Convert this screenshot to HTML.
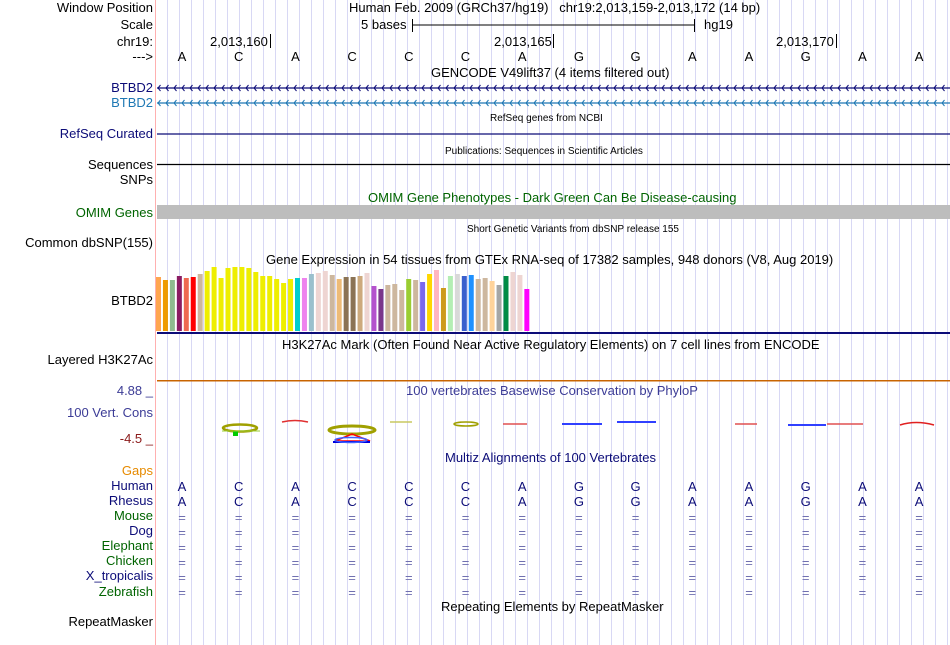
<!DOCTYPE html>
<html><head><meta charset="utf-8"><style>
body{margin:0;width:950px;height:645px;background:#fff;overflow:hidden;position:relative;font-family:"Liberation Sans",Arial,sans-serif;font-size:13px}
.l{position:absolute;right:797px;white-space:nowrap;line-height:15px;text-align:right}
.t{position:absolute;white-space:nowrap;line-height:15px}
.s{font-size:10px}
svg{position:absolute;left:0;top:0}
</style></head><body>
<svg id="grid" width="950" height="645"></svg>

<div class="l" style="top:0">Window Position</div>
<div class="l" style="top:17px">Scale</div>
<div class="l" style="top:34px">chr19:</div>
<div class="l" style="top:49px">---&gt;</div>
<div class="t" style="left:349px;top:0">Human Feb. 2009 (GRCh37/hg19) &nbsp; chr19:2,013,159-2,013,172 (14 bp)</div>
<div class="t" style="left:361px;top:17px">5 bases</div>
<div class="t" style="left:704px;top:17px">hg19</div>
<div class="t" style="left:210px;top:34px">2,013,160</div>
<div class="t" style="left:494px;top:34px">2,013,165</div>
<div class="t" style="left:776px;top:34px">2,013,170</div>
<div class="t" style="left:431px;top:65px">GENCODE V49lift37 (4 items filtered out)</div>
<div class="l" style="top:80px;color:#0c0c78">BTBD2</div>
<div class="l" style="top:95px;color:#1e78b4">BTBD2</div>
<div class="t s" style="left:490px;top:111px">RefSeq genes from NCBI</div>
<div class="l" style="top:126px;color:#0c0c78">RefSeq Curated</div>
<div class="t s" style="left:445px;top:144px">Publications: Sequences in Scientific Articles</div>
<div class="l" style="top:157px">Sequences</div>
<div class="l" style="top:172px">SNPs</div>
<div class="t" style="left:368px;top:190px;color:#006400">OMIM Gene Phenotypes - Dark Green Can Be Disease-causing</div>
<div class="l" style="top:205px;color:#006400">OMIM Genes</div>
<div class="t s" style="left:467px;top:222px">Short Genetic Variants from dbSNP release 155</div>
<div class="l" style="top:235px">Common dbSNP(155)</div>
<div class="t" style="left:266px;top:252px">Gene Expression in 54 tissues from GTEx RNA-seq of 17382 samples, 948 donors (V8, Aug 2019)</div>
<div class="l" style="top:293px">BTBD2</div>
<div class="t" style="left:282px;top:337px">H3K27Ac Mark (Often Found Near Active Regulatory Elements) on 7 cell lines from ENCODE</div>
<div class="l" style="top:352px">Layered H3K27Ac</div>
<div class="l" style="top:383px;color:#3c3c96">4.88 _</div>
<div class="t" style="left:406px;top:383px;color:#3c3c96">100 vertebrates Basewise Conservation by PhyloP</div>
<div class="l" style="top:405px;color:#3c3c96">100 Vert. Cons</div>
<div class="l" style="top:431px;color:#8b1a1a">-4.5 _</div>
<div class="t" style="left:445px;top:450px;color:#0c0c78">Multiz Alignments of 100 Vertebrates</div>
<div class="l" style="top:463px;color:#e68a00">Gaps</div>
<div class="l" style="top:478px;color:#0c0c78">Human</div>
<div class="l" style="top:493px;color:#0c0c78">Rhesus</div>
<div class="l" style="top:508px;color:#006400">Mouse</div>
<div class="l" style="top:523px;color:#0c0c78">Dog</div>
<div class="l" style="top:538px;color:#006400">Elephant</div>
<div class="l" style="top:553px;color:#006400">Chicken</div>
<div class="l" style="top:568px;color:#0c0c78">X_tropicalis</div>
<div class="l" style="top:584px;color:#006400">Zebrafish</div>
<div class="t" style="left:441px;top:599px">Repeating Elements by RepeatMasker</div>
<div class="l" style="top:614px">RepeatMasker</div>

<svg id="fg" width="950" height="645"></svg>
<script>
const bases=["A","C","A","C","C","C","A","G","G","A","A","G","A","A"];
const gtexValues=[54,51,51,55,53,54,57,60,64,53,63,64,64,63,59,55,55,52,48,52,53,53,57,58,60,56,52,54,54,55,58,45,42,46,47,41,52,51,49,57,61,43,55,57,55,56,52,53,50,46,55,59,56,42];
const gtexColors=["#FFA54F","#EE9A00","#8FBC8F","#8B1C62","#EE6A50","#FF0000","#CDB79E","#EEEE00","#EEEE00","#EEEE00","#EEEE00","#EEEE00","#EEEE00","#EEEE00","#EEEE00","#EEEE00","#EEEE00","#EEEE00","#EEEE00","#EEEE00","#00CDCD","#EE82EE","#9AC0CD","#EED5D2","#EED5D2","#CDB79E","#EEBB77","#8B7355","#8B7355","#CDAA7D","#EED5D2","#B452CD","#7A378B","#CDB79E","#CDB79E","#CDB79E","#9ACD32","#CDB79E","#7B68EE","#FFD700","#FFB6C1","#CD9B1D","#B4EEB4","#D9D9D9","#3A5FCD","#1E90FF","#CDB79E","#CDB79E","#FFD39B","#A6A6A6","#008B45","#EED5D2","#EED5D2","#FF00FF"];
const NS="http://www.w3.org/2000/svg";
function mk(svg,tag,a){const e=document.createElementNS(NS,tag);for(const k in a)e.setAttribute(k,a[k]);svg.appendChild(e);return e;}
const g=document.getElementById('grid'),f=document.getElementById('fg');
for(let x=167.5;x<950;x+=12){const e=mk(g,'line',{x1:x,x2:x,y1:0,y2:645,stroke:'#d8d8f4','stroke-width':1});

}
const pl=mk(g,'line',{x1:155.5,x2:155.5,y1:0,y2:645,stroke:'#ffb0b0','stroke-width':1});


const bx=i=>182+56.7*i;
mk(f,'line',{x1:412,x2:694,y1:25,y2:25,stroke:'#000'});
mk(f,'line',{x1:412.5,x2:412.5,y1:19,y2:32,stroke:'#000'});
mk(f,'line',{x1:694.5,x2:694.5,y1:19,y2:32,stroke:'#000'});
[270,553,836].forEach(x=>mk(f,'line',{x1:x+.5,x2:x+.5,y1:34,y2:48,stroke:'#000'}));
function txt(x,y,s,c,name){const t=mk(f,'text',{x:x,y:y,'text-anchor':'middle','font-size':13,fill:c,'font-family':'Liberation Sans, Arial, sans-serif'});t.textContent=s;

}
bases.forEach((b,i)=>{txt(bx(i),61,b,'#000','base-letter');txt(bx(i),491,b,'#0c0c78','human-base');txt(bx(i),506,b,'#0c0c78','rhesus-base');
for(let r=0;r<6;r++)txt(bx(i),522+15*r,'=','#7070b0','gap-mark');});
function gene(y,c){mk(f,'line',{x1:157,x2:950,y1:y,y2:y,stroke:c,'stroke-width':1.2});
for(let x=158;x<948;x+=8)mk(f,'path',{d:`M${x+2.5} ${y-3}L${x} ${y}L${x+2.5} ${y+3}`,stroke:c,fill:'none','stroke-width':1});}
gene(88,'#0c0c78');gene(103,'#1e78b4');
mk(f,'line',{x1:157,x2:950,y1:134,y2:134,stroke:'#0c0c78','stroke-width':1.3});
mk(f,'line',{x1:157,x2:950,y1:164.5,y2:164.5,stroke:'#000','stroke-width':1.3});
const om=mk(f,'rect',{x:157,y:205,width:793,height:14,fill:'#bdbdbd'});


const base=331,scale=1.0,bw=6.95;
gtexValues.forEach((v,i)=>{const h=v*scale;const r=mk(f,'rect',{x:156+i*bw,y:base-h,width:5,height:h,fill:gtexColors[i]});

});
mk(f,'rect',{x:157,y:332,width:793,height:2,fill:'#0c0c78'});
mk(f,'rect',{x:157,y:380,width:793,height:1.5,fill:'#c86400'});
function ell(cx,cy,rx,ry,c,w){mk(f,'ellipse',{cx,cy,rx,ry,fill:'none',stroke:c,'stroke-width':w});}
ell(240,428,17,3.5,'#a0a000',2.5);mk(f,'rect',{x:233,y:431,width:5,height:5,fill:'#00cc00'});mk(f,'line',{x1:222,x2:260,y1:431,y2:431,stroke:'#9acd32'});
mk(f,'path',{d:'M282 422 Q295 419 308 422',stroke:'#e03030',fill:'none','stroke-width':1.5});
ell(352,430,23,4,'#a0a000',3);mk(f,'path',{d:'M335 441 L352 434 L370 441 Z',fill:'none',stroke:'#ff0000','stroke-width':1.5});
mk(f,'path',{d:'M333 442 L370 442',stroke:'#0000dd','stroke-width':2});ell(351,440,16,2.5,'#4060ff',1.5);
mk(f,'line',{x1:390,x2:412,y1:422,y2:422,stroke:'#c8c860','stroke-width':1.5});
ell(466,424,12,2,'#a0a000',1.5);
[[503,527,'#e05050'],[827,863,'#e05050'],[735,757,'#e05050']].forEach(a=>mk(f,'line',{x1:a[0],x2:a[1],y1:424,y2:424,stroke:a[2],'stroke-width':1.5}));
mk(f,'line',{x1:562,x2:602,y1:424,y2:424,stroke:'#3040ff','stroke-width':2});
mk(f,'line',{x1:617,x2:656,y1:422,y2:422,stroke:'#3040ff','stroke-width':2});
mk(f,'line',{x1:788,x2:826,y1:425,y2:425,stroke:'#3040ff','stroke-width':2});
mk(f,'path',{d:'M900 425 Q916 420 934 425',stroke:'#e02020',fill:'none','stroke-width':1.5});
</script>
</body></html>
